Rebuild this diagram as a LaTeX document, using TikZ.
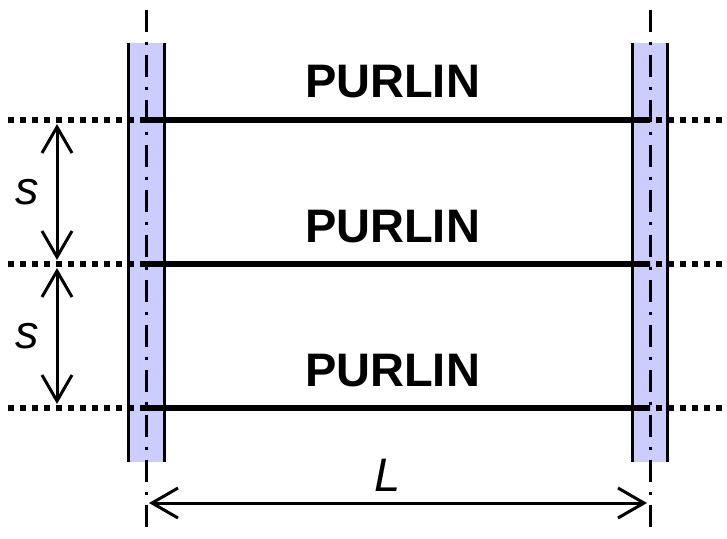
\documentclass[tikz,border=0pt]{standalone}
\usepackage{fontspec}
\setmainfont{Liberation Sans}
\tikzset{
  column/.style={fill=colfill,draw=none},
  colside/.style={line width=3pt,line cap=butt},
  centerline/.style={line width=3pt,dash pattern=on 22.5pt off 9.5pt on 3pt off 10pt},
  purlin/.style={line width=5.5pt},
  purlindot/.style={line width=5.5pt,dash pattern=on 6pt off 6pt},
  dim/.style={line width=3pt},
  barb/.style={line width=3pt,line join=miter},
  plabel/.style={font=\fontsize{47}{47}\selectfont\bfseries,inner sep=0pt},
  dimlabel/.style={font=\fontsize{47}{47}\selectfont\itshape,inner sep=0pt}
}
\definecolor{colfill}{RGB}{204,204,255}
\begin{document}
\begin{tikzpicture}[x=1pt,y=-1pt]
\useasboundingbox (0,0) rectangle (727,538);
% columns
\fill[column] (128.5,43) rectangle (164.3,462);
\fill[column] (632,43) rectangle (667.7,462);
\foreach \x in {128.5,164.3,632,667.7}{
  \draw[colside] (\x,43) -- (\x,462);
}
% purlins and dotted extensions
\foreach \y/\n in {120/a,264/b,408/c}{
  \coordinate (l\n) at (8,\y);
  \coordinate (cl\n) at (146,\y);
  \coordinate (cr\n) at (650,\y);
  \coordinate (r\n) at (722,\y);
  \draw[purlindot] (l\n) -- (cl\n);
  \draw[purlindot] (r\n) -- (cr\n);
  \draw[purlin] (141,\y) -- (cr\n);
}
% centre lines
\coordinate (ct1) at (146,9.5);
\coordinate (cb1) at (146,528);
\coordinate (ct2) at (650,9.5);
\coordinate (cb2) at (650,528);
\draw[centerline] (ct1) -- (cb1);
\draw[centerline] (ct2) -- (cb2);
% dimensions
\coordinate (s1) at (57,127);
\coordinate (s2) at (57,257);
\coordinate (s3) at (57,271);
\coordinate (s4) at (57,401);
\coordinate (d1) at (152,503);
\coordinate (d2) at (644,503);
\draw[dim] (s1) -- (s2);
\draw[dim] (s3) -- (s4);
\draw[dim] (d1) -- (d2);
\foreach \t in {s1,s3}{
  \draw[barb] ([shift={(-15,26)}]\t) -- (\t) -- ([shift={(15,26)}]\t);
}
\foreach \t in {s2,s4}{
  \draw[barb] ([shift={(-15,-26)}]\t) -- (\t) -- ([shift={(15,-26)}]\t);
}
\draw[barb] ([shift={(26,-15)}]d1) -- (d1) -- ([shift={(26,15)}]d1);
\draw[barb] ([shift={(-26,-15)}]d2) -- (d2) -- ([shift={(-26,15)}]d2);
% labels
\node[plabel] (p1) at (392.5,82) {PURLIN};
\node[plabel] (p2) at (392.5,227) {PURLIN};
\node[plabel] (p3) at (392.5,371) {PURLIN};
\node[dimlabel] (t1) at (27.5,192) {s};
\node[dimlabel] (t2) at (27.5,336) {s};
\node[dimlabel] (t3) at (388,475) {L};
\end{tikzpicture}
\end{document}
